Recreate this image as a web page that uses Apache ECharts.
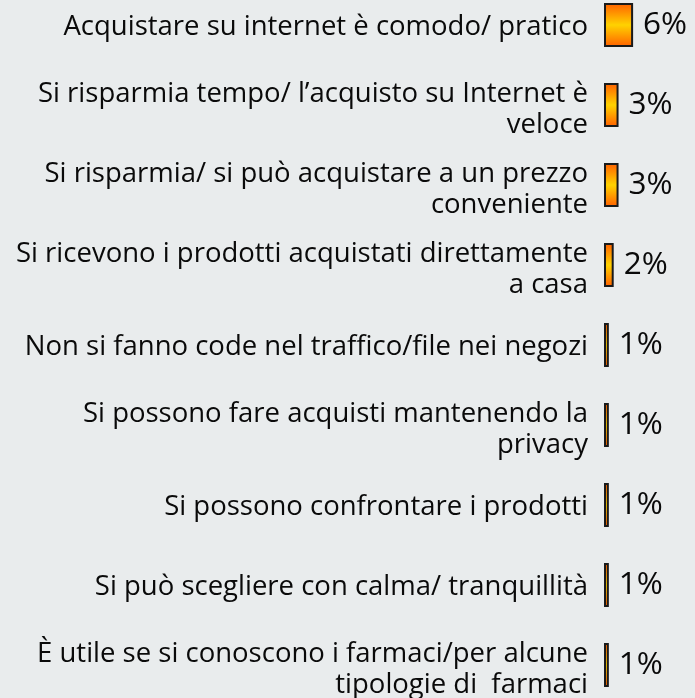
<!DOCTYPE html>
<html>
<head>
<meta charset="utf-8">
<script src="https://cdn.jsdelivr.net/npm/echarts@6/dist/echarts.min.js"></script>
<style>
html,body{margin:0;padding:0;background:#e9eced;}
#c{width:695px;height:698px;}
</style>
</head>
<body>
<div id="c"></div>
<script>
var categories = [
  "Acquistare su internet è comodo/ pratico",
  "Si risparmia tempo/ l’acquisto su Internet è\nveloce",
  "Si risparmia/ si può acquistare a un prezzo\nconveniente",
  "Si ricevono i prodotti acquistati direttamente\na casa",
  "Non si fanno code nel traffico/file nei negozi",
  "Si possono fare acquisti mantenendo la\nprivacy",
  "Si possono confrontare i prodotti",
  "Si può scegliere con calma/ tranquillità",
  "È utile se si conoscono i farmaci/per alcune\ntipologie di  farmaci"
];
var values = [6, 3, 3, 2, 1, 1, 1, 1, 1];

var chart = echarts.init(document.getElementById('c'));
chart.setOption({
  backgroundColor: '#e9eced',
  animation: false,
  grid: {left: 604, right: 42.5, top: -15, bottom: -7, outerBoundsMode: 'none', containLabel: false},
  xAxis: {
    type: 'value', min: 0, max: 10, show: false
  },
  yAxis: {
    type: 'category', data: categories, inverse: true,
    axisLine: {show: false}, axisTick: {show: false}, splitLine: {show: false},
    axisLabel: {
      margin: 16, align: 'right',
      formatter: function (v) {
        var lines = v.split('\n');
        var sp = lines.length > 1 ? '{sp2| }' : '{sp1| }';
        return sp + '\n' + lines.map(function (l) { return '{t|' + l + '}'; }).join('\n');
      },
      rich: {
        t: {fontFamily: 'Open Sans', fontSize: 27.5, lineHeight: 31, color: '#0a0a0a'},
        sp1: {fontSize: 1, lineHeight: 5},
        sp2: {fontSize: 1, lineHeight: 10}
      }
    }
  },
  series: [{
    type: 'bar',
    data: values,
    barWidth: 44,
    itemStyle: {
      borderColor: '#1a1a1a', borderWidth: 2,
      color: {
        type: 'linear', x: 0, y: 0, x2: 0, y2: 1,
        colorStops: [
          {offset: 0, color: '#ff5f00'},
          {offset: 0.5, color: '#ffd200'},
          {offset: 1, color: '#ff5f00'}
        ]
      }
    },
    label: {
      show: true, position: 'right', distance: 10,
      fontFamily: 'Open Sans', fontSize: 31.5, color: '#0a0a0a',
      formatter: function (p) { return p.value + '%'; }
    }
  }]
});
</script>
</body>
</html>
